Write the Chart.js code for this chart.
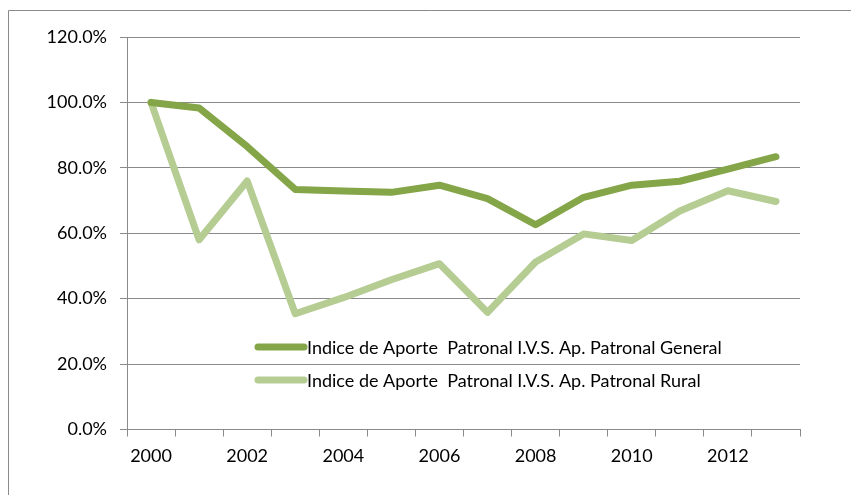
<!DOCTYPE html>
<html>
<head>
<meta charset="utf-8">
<script src="https://cdn.jsdelivr.net/npm/chart.js@4/dist/chart.umd.min.js"></script>
<style>
html,body{margin:0;padding:0;background:#fff;}
#wrap{width:851px;height:495px;position:relative;}
</style>
</head>
<body>
<div id="wrap"><canvas id="c" width="851" height="495"></canvas></div>
<script>
const years = ['2000','2001','2002','2003','2004','2005','2006','2007','2008','2009','2010','2011','2012','2013'];
const generalValues = [100, 98.3, 86.5, 73.4, 72.9, 72.5, 74.7, 70.6, 62.6, 71.0, 74.7, 75.9, 79.6, 83.4];
const ruralValues = [100, 58.0, 76.0, 35.4, 40.3, 45.8, 50.7, 35.8, 51.2, 59.8, 57.8, 66.8, 73.0, 69.7];
const seriesLabels = ['Indice de Aporte  Patronal I.V.S. Ap. Patronal General', 'Indice de Aporte  Patronal I.V.S. Ap. Patronal Rural'];
const yTicks = [0, 20, 40, 60, 80, 100, 120];

const FONT = 'Lato, "Open Sans", sans-serif';
const GRID = '#8a8a8a';

const framePlugin = {
  id: 'frame',
  beforeDraw(chart) {
    const ctx = chart.ctx;
    ctx.save();
    ctx.fillStyle = '#fff';
    ctx.fillRect(0, 0, chart.width, chart.height);
    ctx.strokeStyle = '#8a8a8a';
    ctx.lineWidth = 1;
    ctx.beginPath();
    ctx.moveTo(8.5, chart.height + 2);
    ctx.lineTo(8.5, 10.5);
    ctx.lineTo(chart.width + 2, 10.5);
    ctx.stroke();
    ctx.restore();
  }
};

const legendPlugin = {
  id: 'inlegend',
  afterDatasetsDraw(chart) {
    const ctx = chart.ctx;
    const area = chart.chartArea;
    const x0 = area.left + 131, x1 = area.left + 177;
    const rows = [area.top + 310, area.top + 343];
    ctx.save();
    chart.data.datasets.forEach((ds, i) => {
      const y = rows[i];
      ctx.strokeStyle = ds.borderColor;
      ctx.lineWidth = 7;
      ctx.lineCap = 'round';
      ctx.beginPath();
      ctx.moveTo(x0, y);
      ctx.lineTo(x1, y);
      ctx.stroke();
      ctx.fillStyle = '#000';
      ctx.font = '18px ' + FONT;
      ctx.textBaseline = 'middle';
      ctx.textAlign = 'left';
      ctx.fillText(ds.label, x1 + 3, y + 1);
    });
    ctx.restore();
  }
};

new Chart(document.getElementById('c'), {
  type: 'line',
  data: {
    labels: years,
    datasets: [
      { label: seriesLabels[0], data: generalValues, borderColor: '#84a548', backgroundColor: '#84a548',
        borderWidth: 7, pointRadius: 0, tension: 0, borderCapStyle: 'round', borderJoinStyle: 'round' },
      { label: seriesLabels[1], data: ruralValues, borderColor: '#b5cc93', backgroundColor: '#b5cc93',
        borderWidth: 7, pointRadius: 0, tension: 0, borderCapStyle: 'round', borderJoinStyle: 'round' }
    ]
  },
  options: {
    responsive: false,
    animation: false,
    devicePixelRatio: 1,
    layout: { padding: { left: 0, right: 51, top: 37, bottom: 0 } },
    plugins: { legend: { display: false }, tooltip: { enabled: false } },
    scales: {
      x: {
        type: 'category',
        offset: true,
        grid: { offset: true, drawOnChartArea: false, drawTicks: true, tickLength: 7, color: GRID },
        border: { display: true, color: GRID, width: 1 },
        ticks: {
          autoSkip: false, maxRotation: 0, padding: 9, color: '#000',
          font: { family: FONT, size: 18 },
          callback: function(v, i) { return i % 2 === 0 ? years[i] : ''; }
        },
        afterFit(scale) { scale.height = 65.5; }
      },
      y: {
        min: yTicks[0], max: yTicks[yTicks.length - 1],
        afterBuildTicks(scale) { scale.ticks = yTicks.map(v => ({ value: v })); },
        grid: { color: GRID, tickLength: 7, drawTicks: true },
        border: { display: true, color: GRID, width: 1 },
        ticks: {
          padding: 13, color: '#000',
          font: { family: FONT, size: 18 },
          callback: v => v.toFixed(1) + '%'
        },
        afterFit(scale) { scale.width = 127; }
      }
    }
  },
  plugins: [framePlugin, legendPlugin]
});
</script>
</body>
</html>
